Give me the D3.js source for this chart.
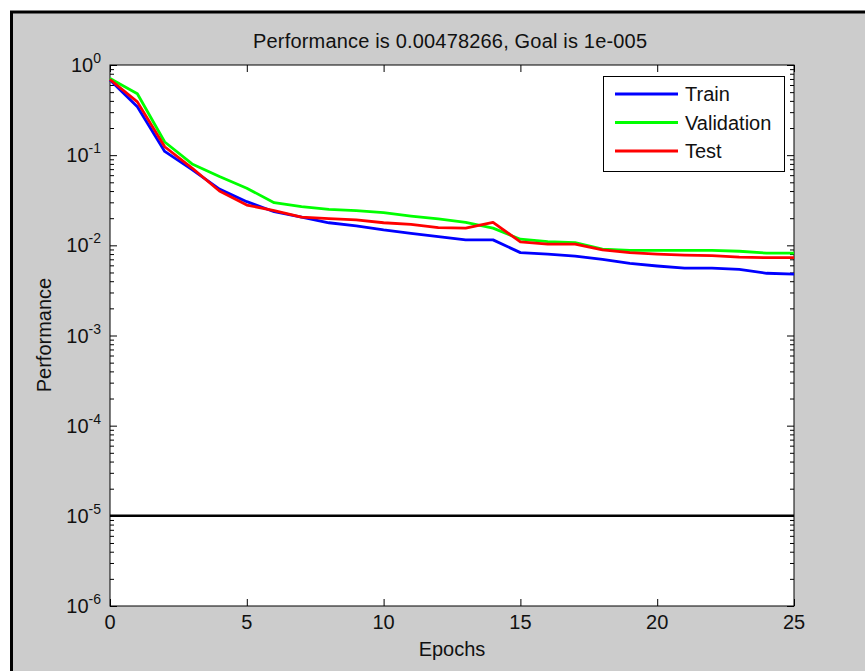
<!DOCTYPE html>
<html>
<head>
<meta charset="utf-8">
<script src="https://cdn.jsdelivr.net/npm/d3@7"></script>
<style>
  body { margin: 0; background: #fff; }
  text { font-family: "Liberation Sans", Arial, sans-serif; fill: #111; }
</style>
</head>
<body>
<script>
// epochs and performance values
const epochs = d3.range(0, 26);
const train = [0.68, 0.345, 0.11, 0.069, 0.042, 0.0305, 0.0236, 0.0205, 0.0178, 0.0164,
    0.0148, 0.0136, 0.0125, 0.0115, 0.0115, 0.0083, 0.0080, 0.0076, 0.0070, 0.0063,
    0.0059, 0.0056, 0.0056, 0.0054, 0.0049, 0.00478266];
const validation = [0.71, 0.48, 0.14, 0.08, 0.058, 0.043, 0.0297, 0.0268, 0.025, 0.0242,
    0.023, 0.0211, 0.0196, 0.018, 0.0155, 0.0117, 0.011, 0.0107, 0.0091, 0.0088,
    0.0088, 0.0088, 0.0088, 0.0086, 0.0082, 0.0082];
const test = [0.69, 0.39, 0.124, 0.072, 0.040, 0.028, 0.0242, 0.0205, 0.0198, 0.0192,
    0.0178, 0.0171, 0.0157, 0.0155, 0.018, 0.0109, 0.0103, 0.0103, 0.0089, 0.0083,
    0.008, 0.0078, 0.0077, 0.0074, 0.0073, 0.0073];
const goal = 1e-5;
const seriesNames = ["Train", "Validation", "Test"];
const seriesColors = ["#0000ff", "#00ff00", "#ff0000"];
const xTicks = [0, 5, 10, 15, 20, 25];
const yDecades = [0, -1, -2, -3, -4, -5, -6];

const width = 865, height = 671;
const plot = {left: 110, right: 794, top: 65, bottom: 606};
const fontSize = 20;

const svg = d3.select("body").append("svg")
    .attr("width", width)
    .attr("height", height);

// figure frame
svg.append("rect")
    .attr("x", 11.5).attr("y", 12)
    .attr("width", 900).attr("height", 700)
    .attr("fill", "#cccccc")
    .attr("stroke", "#000")
    .attr("stroke-width", 3);

const xscale = d3.scaleLinear().domain([0, 25]).range([plot.left, plot.right]);
const yscale = d3.scaleLog().domain([1e-6, 1]).range([plot.bottom, plot.top]);

svg.append("rect")
    .attr("x", plot.left).attr("y", plot.top)
    .attr("width", plot.right - plot.left)
    .attr("height", plot.bottom - plot.top)
    .attr("fill", "#fff");

// minor y ticks (2..9 per decade)
const minor = [];
yDecades.slice(0, -1).forEach(e => {
    for (let m = 2; m <= 9; m++) minor.push(m * Math.pow(10, e - 1));
});
const major = yDecades.map(e => Math.pow(10, e));

function styleAxis(g) {
    g.select(".domain").remove();
    g.selectAll("line").attr("stroke", "#000").attr("stroke-width", 1);
}

svg.append("g").attr("transform", `translate(${plot.left},0)`)
    .call(d3.axisLeft(yscale).tickValues(minor).tickSize(-4).tickFormat(""))
    .call(styleAxis);
svg.append("g").attr("transform", `translate(${plot.right},0)`)
    .call(d3.axisRight(yscale).tickValues(minor).tickSize(-4).tickFormat(""))
    .call(styleAxis);
svg.append("g").attr("transform", `translate(${plot.left},0)`)
    .call(d3.axisLeft(yscale).tickValues(major).tickSize(-7).tickFormat(""))
    .call(styleAxis);
svg.append("g").attr("transform", `translate(${plot.right},0)`)
    .call(d3.axisRight(yscale).tickValues(major).tickSize(-7).tickFormat(""))
    .call(styleAxis);
svg.append("g").attr("transform", `translate(0,${plot.bottom})`)
    .call(d3.axisBottom(xscale).tickValues(xTicks).tickSize(-7).tickFormat(""))
    .call(styleAxis);
svg.append("g").attr("transform", `translate(0,${plot.top})`)
    .call(d3.axisTop(xscale).tickValues(xTicks).tickSize(-7).tickFormat(""))
    .call(styleAxis);

// x tick labels
svg.selectAll(".xlab").data(xTicks).enter().append("text")
    .attr("x", d => xscale(d))
    .attr("y", plot.bottom + 23)
    .attr("text-anchor", "middle")
    .attr("font-size", fontSize)
    .text(d => d);

// y tick labels 10^e
const ylab = svg.selectAll(".ylab").data(yDecades).enter().append("text")
    .attr("x", 101)
    .attr("y", d => yscale(Math.pow(10, d)) + 7)
    .attr("text-anchor", "end")
    .attr("font-size", fontSize);
ylab.append("tspan").text("10");
ylab.append("tspan").attr("dy", -9).attr("font-size", 14).text(d => d);

// box
svg.append("rect")
    .attr("x", plot.left).attr("y", plot.top)
    .attr("width", plot.right - plot.left)
    .attr("height", plot.bottom - plot.top)
    .attr("fill", "none")
    .attr("stroke", "#000")
    .attr("stroke-width", 1);

// goal line
svg.append("line")
    .attr("x1", xscale(0)).attr("x2", xscale(25))
    .attr("y1", yscale(goal)).attr("y2", yscale(goal))
    .attr("stroke", "#000")
    .attr("stroke-width", 2.5);

// performance curves
const line = d3.line().x((d, i) => xscale(epochs[i])).y(d => yscale(d));
[train, validation, test].forEach((s, i) => {
    svg.append("path")
        .attr("d", line(s))
        .attr("fill", "none")
        .attr("stroke", seriesColors[i])
        .attr("stroke-width", 2.8)
        .attr("stroke-linejoin", "round");
});

// legend
const lg = svg.append("g");
lg.append("rect")
    .attr("x", 603.5).attr("y", 76.5)
    .attr("width", 181).attr("height", 95)
    .attr("fill", "#fff").attr("stroke", "#000").attr("stroke-width", 1);
seriesNames.forEach((name, i) => {
    const yy = 94 + i * 28.5;
    lg.append("line")
        .attr("x1", 615).attr("x2", 678)
        .attr("y1", yy).attr("y2", yy)
        .attr("stroke", seriesColors[i]).attr("stroke-width", 2.8);
    lg.append("text")
        .attr("x", 685).attr("y", yy + 7)
        .attr("font-size", fontSize)
        .text(name);
});

// title and axis labels
svg.append("text")
    .attr("x", 450).attr("y", 48)
    .attr("text-anchor", "middle")
    .attr("font-size", fontSize)
    .attr("textLength", 394)
    .text("Performance is 0.00478266, Goal is 1e-005");
svg.append("text")
    .attr("x", 452).attr("y", 656)
    .attr("text-anchor", "middle")
    .attr("font-size", fontSize)
    .text("Epochs");
svg.append("text")
    .attr("transform", "translate(51,335) rotate(-90)")
    .attr("text-anchor", "middle")
    .attr("font-size", fontSize)
    .text("Performance");
</script>
</body>
</html>
